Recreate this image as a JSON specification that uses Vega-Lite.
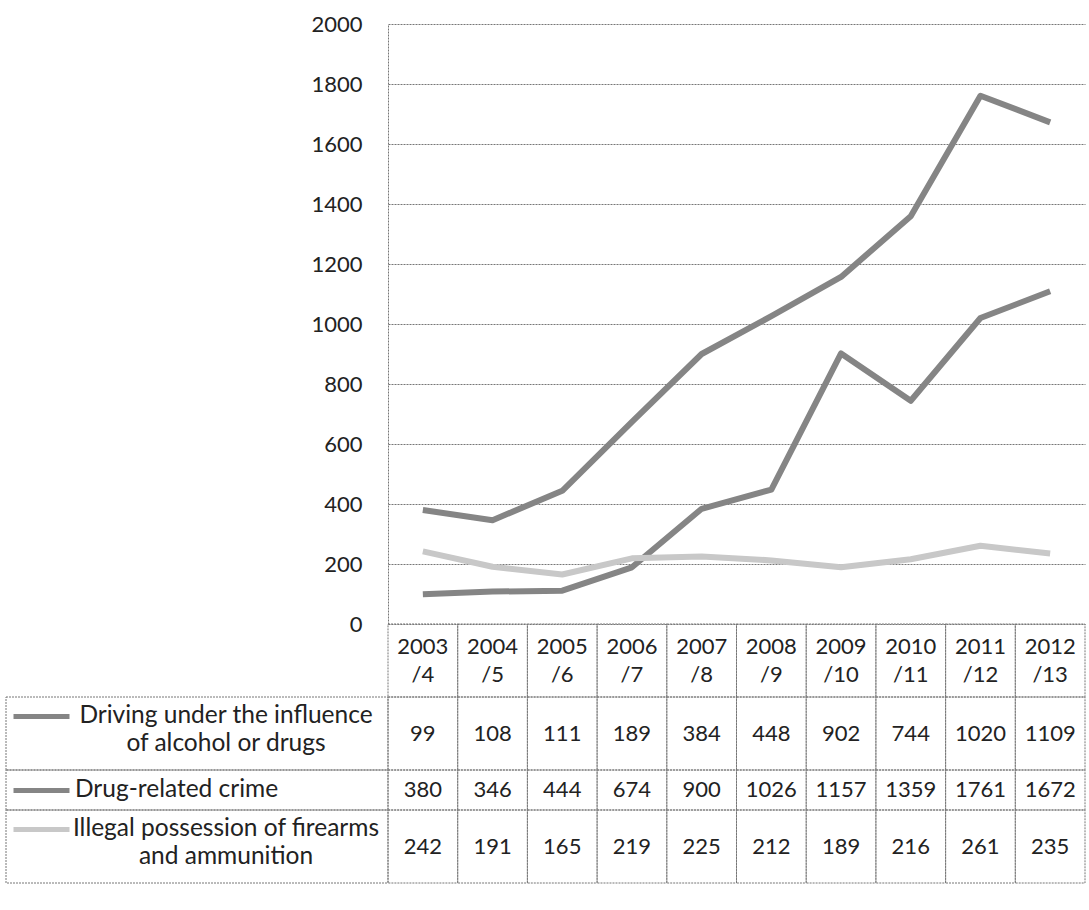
{
  "$schema": "https://vega.github.io/schema/vega-lite/v6.json",
  "background": "white",
  "padding": {"left": 5, "top": 13, "right": 5, "bottom": 5},
  "config": {
    "view": {"stroke": null},
    "font": "Lato",
    "text": {"font": "Lato", "fontSize": 22, "color": "#222222"},
    "axis": {"labelFont": "Lato", "labelFontSize": 22, "labelColor": "#222222"}
  },
  "datasets": {
    "crime": [
      {"year": "2003/4", "series": "Driving under the influence of alcohol or drugs", "value": 99},
      {"year": "2004/5", "series": "Driving under the influence of alcohol or drugs", "value": 108},
      {"year": "2005/6", "series": "Driving under the influence of alcohol or drugs", "value": 111},
      {"year": "2006/7", "series": "Driving under the influence of alcohol or drugs", "value": 189},
      {"year": "2007/8", "series": "Driving under the influence of alcohol or drugs", "value": 384},
      {"year": "2008/9", "series": "Driving under the influence of alcohol or drugs", "value": 448},
      {"year": "2009/10", "series": "Driving under the influence of alcohol or drugs", "value": 902},
      {"year": "2010/11", "series": "Driving under the influence of alcohol or drugs", "value": 744},
      {"year": "2011/12", "series": "Driving under the influence of alcohol or drugs", "value": 1020},
      {"year": "2012/13", "series": "Driving under the influence of alcohol or drugs", "value": 1109},
      {"year": "2003/4", "series": "Drug-related crime", "value": 380},
      {"year": "2004/5", "series": "Drug-related crime", "value": 346},
      {"year": "2005/6", "series": "Drug-related crime", "value": 444},
      {"year": "2006/7", "series": "Drug-related crime", "value": 674},
      {"year": "2007/8", "series": "Drug-related crime", "value": 900},
      {"year": "2008/9", "series": "Drug-related crime", "value": 1026},
      {"year": "2009/10", "series": "Drug-related crime", "value": 1157},
      {"year": "2010/11", "series": "Drug-related crime", "value": 1359},
      {"year": "2011/12", "series": "Drug-related crime", "value": 1761},
      {"year": "2012/13", "series": "Drug-related crime", "value": 1672},
      {"year": "2003/4", "series": "Illegal possession of firearms and ammunition", "value": 242},
      {"year": "2004/5", "series": "Illegal possession of firearms and ammunition", "value": 191},
      {"year": "2005/6", "series": "Illegal possession of firearms and ammunition", "value": 165},
      {"year": "2006/7", "series": "Illegal possession of firearms and ammunition", "value": 219},
      {"year": "2007/8", "series": "Illegal possession of firearms and ammunition", "value": 225},
      {"year": "2008/9", "series": "Illegal possession of firearms and ammunition", "value": 212},
      {"year": "2009/10", "series": "Illegal possession of firearms and ammunition", "value": 189},
      {"year": "2010/11", "series": "Illegal possession of firearms and ammunition", "value": 216},
      {"year": "2011/12", "series": "Illegal possession of firearms and ammunition", "value": 261},
      {"year": "2012/13", "series": "Illegal possession of firearms and ammunition", "value": 235}
    ],
    "series": [
      {"series": "Driving under the influence of alcohol or drugs", "label": ["Driving under the influence", "of alcohol or drugs"]},
      {"series": "Drug-related crime", "label": "Drug-related crime"},
      {"series": "Illegal possession of firearms and ammunition", "label": ["Illegal possession of firearms", "and ammunition"]}
    ]
  },
  "data": {"name": "crime"},
  "columns": 2,
  "align": "each",
  "bounds": "flush",
  "spacing": 0,
  "concat": [
    {"width": 382, "height": 600, "data": {"values": [{}]}, "mark": {"type": "text"}, "encoding": {"text": {"value": ""}}},
    {
      "width": 697,
      "height": 600,
      "mark": {"type": "line", "strokeWidth": 6, "strokeJoin": "round"},
      "encoding": {
        "x": {"field": "year", "type": "ordinal", "sort": null, "scale": {"type": "point", "padding": 0.5}, "axis": null},
        "y": {
          "field": "value",
          "type": "quantitative",
          "scale": {"domain": [0, 2000]},
          "axis": {
            "values": [0, 200, 400, 600, 800, 1000, 1200, 1400, 1600, 1800, 2000],
            "format": "d",
            "title": null,
            "grid": true,
            "gridColor": "#777777",
            "gridDash": [2, 1],
            "gridWidth": 1,
            "domain": true,
            "domainColor": "#777777",
            "domainDash": [2, 1],
            "ticks": false,
            "labelPadding": 26
          }
        },
        "color": {
          "field": "series",
          "type": "nominal",
          "scale": {
            "domain": ["Driving under the influence of alcohol or drugs", "Drug-related crime", "Illegal possession of firearms and ammunition"],
            "range": ["#858585", "#858585", "#c8c8c8"]
          },
          "legend": null
        }
      }
    },
    {"width": 382, "height": 73, "data": {"values": [{}]}, "mark": {"type": "text"}, "encoding": {"text": {"value": ""}}},
    {
      "width": 697,
      "height": 73,
      "transform": [
        {"filter": "datum.series === 'Drug-related crime'"},
        {"calculate": "[slice(datum.year, 0, 4), slice(datum.year, 4)]", "as": "yearLines"}
      ],
      "encoding": {
        "x": {"field": "year", "type": "ordinal", "sort": null, "scale": {"type": "band", "paddingInner": 0, "paddingOuter": 0}, "axis": null}
      },
      "layer": [
        {"mark": {"type": "rect", "filled": false, "stroke": "#777777", "strokeWidth": 1, "strokeDash": [2, 1]}},
        {"mark": {"type": "text", "lineHeight": 28, "dy": -14}, "encoding": {"text": {"field": "yearLines", "type": "nominal"}}}
      ]
    },
    {
      "width": 382,
      "height": 73,
      "data": {"name": "series"},
      "transform": [{"filter": "datum.series === 'Driving under the influence of alcohol or drugs'"}],
      "encoding": {
        "y": {"field": "series", "type": "nominal", "scale": {"paddingInner": 0, "paddingOuter": 0},
          "axis": {"orient": "left", "offset": -63, "title": null, "labels": false, "domain": false, "grid": false, "ticks": true, "tickSize": 56, "tickWidth": 5, "tickColor": "#858585", "tickOffset": -18, "zindex": 1}}
      },
      "layer": [
        {"mark": {"type": "rect", "filled": false, "stroke": "#777777", "strokeWidth": 1, "strokeDash": [2, 1]}},
        {"mark": {"type": "text", "fontSize": 24.5, "lineHeight": 28, "dx": 29, "dy": -18}, "encoding": {"text": {"field": "label", "type": "nominal"}}}
      ]
    },
    {
      "width": 697,
      "height": 73,
      "transform": [{"filter": "datum.series === 'Driving under the influence of alcohol or drugs'"}],
      "encoding": {
        "x": {"field": "year", "type": "ordinal", "sort": null, "scale": {"type": "band", "paddingInner": 0, "paddingOuter": 0}, "axis": null}
      },
      "layer": [
        {"mark": {"type": "rect", "filled": false, "stroke": "#777777", "strokeWidth": 1, "strokeDash": [2, 1]}},
        {"mark": {"type": "text"}, "encoding": {"text": {"field": "value", "type": "quantitative", "format": "d"}}}
      ]
    },
    {
      "width": 382,
      "height": 40,
      "data": {"name": "series"},
      "transform": [{"filter": "datum.series === 'Drug-related crime'"}],
      "encoding": {
        "y": {"field": "series", "type": "nominal", "scale": {"paddingInner": 0, "paddingOuter": 0},
          "axis": {"orient": "left", "offset": -63, "title": null, "labels": false, "domain": false, "grid": false, "ticks": true, "tickSize": 56, "tickWidth": 5, "tickColor": "#858585", "zindex": 1}}
      },
      "layer": [
        {"mark": {"type": "rect", "filled": false, "stroke": "#777777", "strokeWidth": 1, "strokeDash": [2, 1]}},
        {"mark": {"type": "text", "fontSize": 24.5, "align": "left", "dx": -122}, "encoding": {"text": {"field": "label", "type": "nominal"}}}
      ]
    },
    {
      "width": 697,
      "height": 40,
      "transform": [{"filter": "datum.series === 'Drug-related crime'"}],
      "encoding": {
        "x": {"field": "year", "type": "ordinal", "sort": null, "scale": {"type": "band", "paddingInner": 0, "paddingOuter": 0}, "axis": null}
      },
      "layer": [
        {"mark": {"type": "rect", "filled": false, "stroke": "#777777", "strokeWidth": 1, "strokeDash": [2, 1]}},
        {"mark": {"type": "text"}, "encoding": {"text": {"field": "value", "type": "quantitative", "format": "d"}}}
      ]
    },
    {
      "width": 382,
      "height": 73,
      "data": {"name": "series"},
      "transform": [{"filter": "datum.series === 'Illegal possession of firearms and ammunition'"}],
      "encoding": {
        "y": {"field": "series", "type": "nominal", "scale": {"paddingInner": 0, "paddingOuter": 0},
          "axis": {"orient": "left", "offset": -63, "title": null, "labels": false, "domain": false, "grid": false, "ticks": true, "tickSize": 56, "tickWidth": 5, "tickColor": "#c8c8c8", "tickOffset": -18, "zindex": 1}}
      },
      "layer": [
        {"mark": {"type": "rect", "filled": false, "stroke": "#777777", "strokeWidth": 1, "strokeDash": [2, 1]}},
        {"mark": {"type": "text", "fontSize": 24.5, "lineHeight": 28, "dx": 29, "dy": -18}, "encoding": {"text": {"field": "label", "type": "nominal"}}}
      ]
    },
    {
      "width": 697,
      "height": 73,
      "transform": [{"filter": "datum.series === 'Illegal possession of firearms and ammunition'"}],
      "encoding": {
        "x": {"field": "year", "type": "ordinal", "sort": null, "scale": {"type": "band", "paddingInner": 0, "paddingOuter": 0}, "axis": null}
      },
      "layer": [
        {"mark": {"type": "rect", "filled": false, "stroke": "#777777", "strokeWidth": 1, "strokeDash": [2, 1]}},
        {"mark": {"type": "text"}, "encoding": {"text": {"field": "value", "type": "quantitative", "format": "d"}}}
      ]
    }
  ]
}
